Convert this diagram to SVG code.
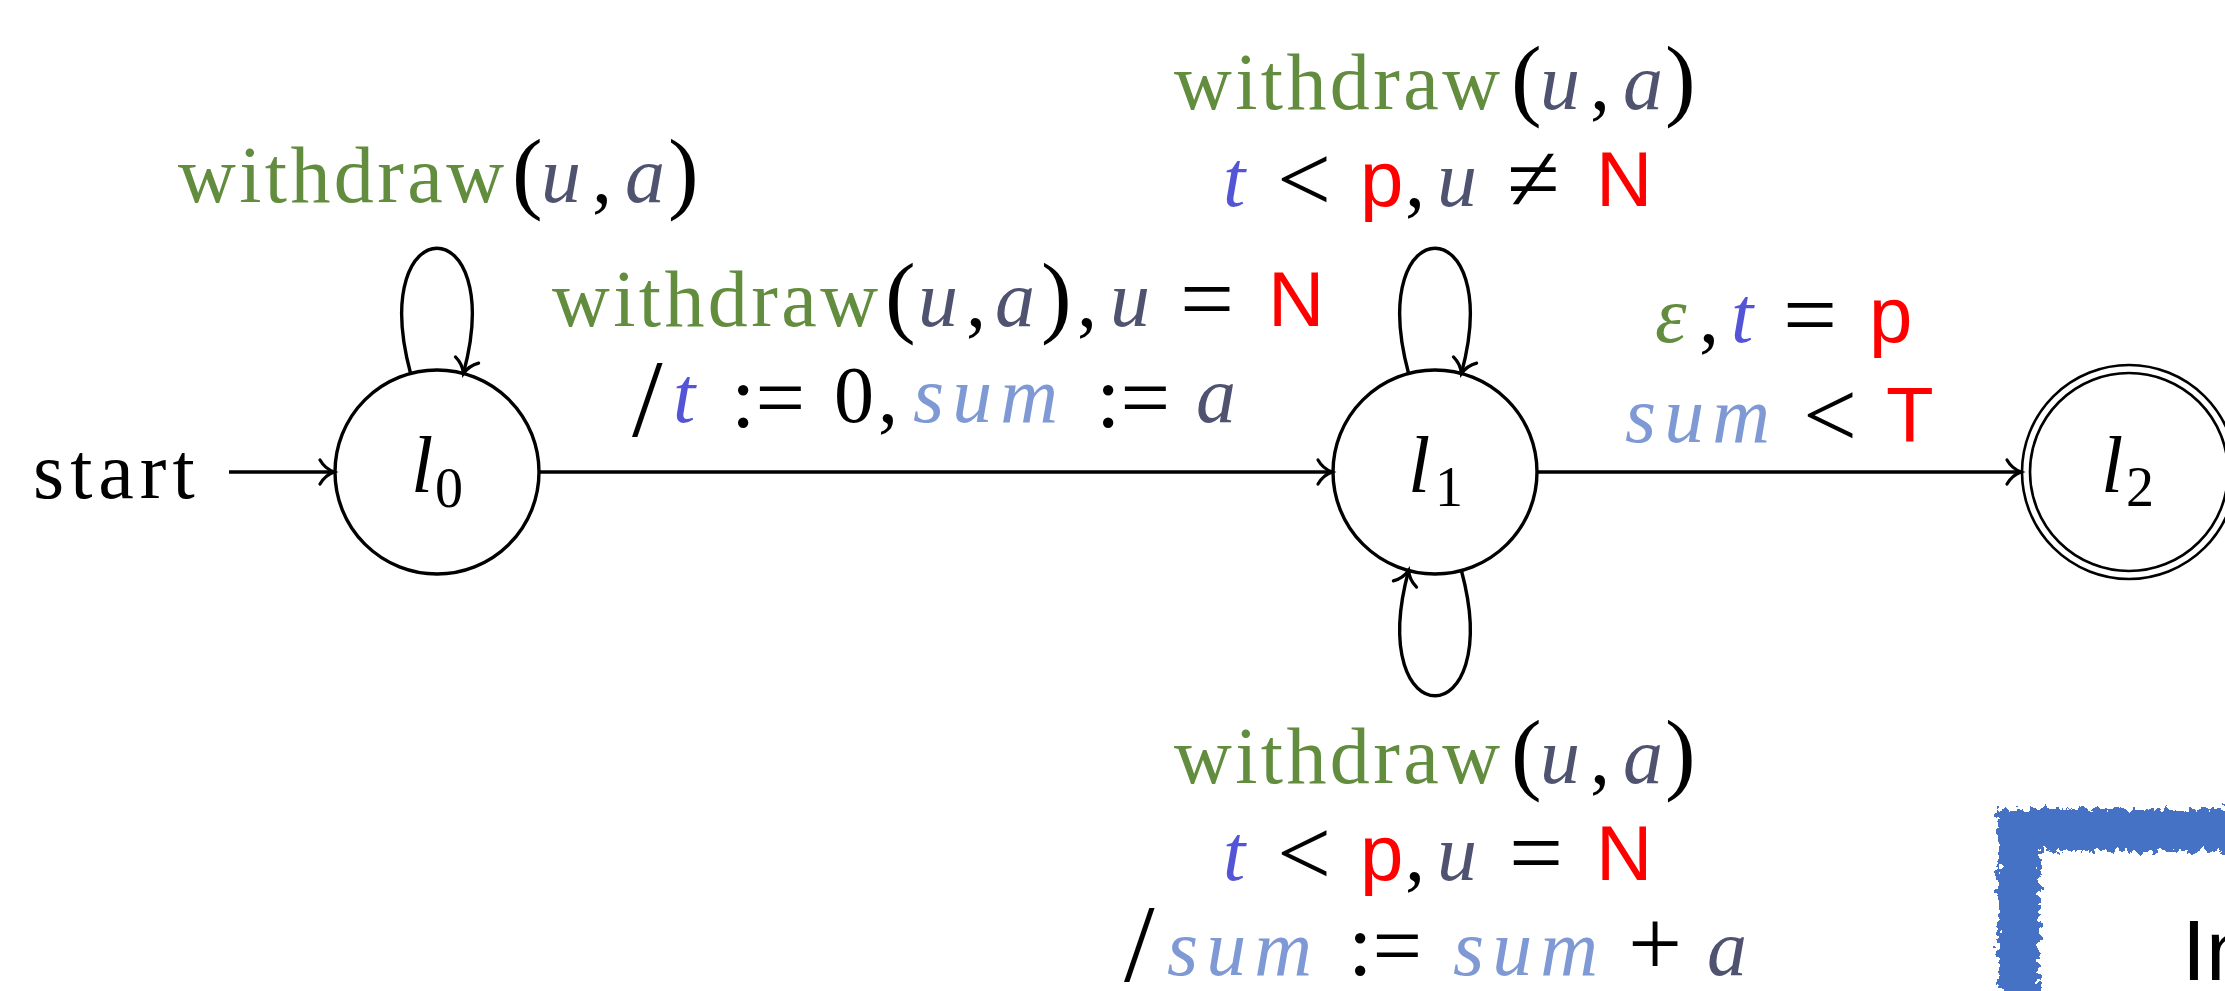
<svg xmlns="http://www.w3.org/2000/svg" width="2225" height="991" viewBox="0 0 2225 991">
<style>
text{font-family:"Liberation Serif","Times New Roman",serif;font-size:80px;fill:#000}
.it{font-style:italic}
.sf{font-family:"Liberation Sans",Arial,sans-serif;font-size:78px;font-style:normal}
.g{fill:#638D3E}
.s{fill:#4F5370}
.b{fill:#5454D6}
.lb{fill:#7E99D4}
.r{fill:#FF0000}
.w{letter-spacing:3.4px}
.sum{letter-spacing:8px}
.sub{font-size:56px}
.op{font-size:96px}
.as{font-size:88px}
.sl{font-size:110px}
.pa{font-size:92px}
.st{fill:none;stroke:#000;stroke-width:3.4}
.edge{fill:none;stroke:#000;stroke-width:3.4;marker-end:url(#to)}
</style>
<defs>
<marker id="to" markerUnits="userSpaceOnUse" viewBox="-20 -20 40 40" markerWidth="40" markerHeight="40" refX="0" refY="0" orient="auto" overflow="visible">
<path d="M -14 -12 C -10 -5 -4 -1.5 0 0 C -4 1.5 -10 5 -14 12" fill="none" stroke="#000" stroke-width="3.2" stroke-linecap="round"/>
</marker>
<filter id="rough" x="-10%" y="-10%" width="120%" height="120%">
<feTurbulence type="fractalNoise" baseFrequency="0.14" numOctaves="3" seed="5"/>
<feDisplacementMap in="SourceGraphic" scale="16" xChannelSelector="R" yChannelSelector="G"/>
</filter>
</defs>
<rect width="2225" height="991" fill="#fff"/>

<g id="start">
<text x="33" y="498" style="letter-spacing:6px">start</text>
</g>

<g id="node-l0">
<circle class="st" cx="437" cy="472" r="102"/>
<text y="492"><tspan x="411" class="it">l</tspan><tspan x="435" y="507" class="sub">0</tspan></text>
</g>

<g id="node-l1">
<circle class="st" cx="1435" cy="472" r="102"/>
<text y="492"><tspan x="1408" class="it">l</tspan><tspan x="1435" y="506" class="sub">1</tspan></text>
</g>

<g id="node-l2">
<circle cx="2129" cy="472" r="107" fill="none" stroke="#000" stroke-width="2.6"/>
<circle cx="2129" cy="472" r="99" fill="none" stroke="#000" stroke-width="2.6"/>
<text y="492"><tspan x="2101" class="it">l</tspan><tspan x="2126" y="506" class="sub">2</tspan></text>
</g>

<g id="connectors">
<path class="edge" d="M 229 472 H 334"/>
<path class="edge" d="M 539 472 H 1332"/>
<path class="edge" d="M 1537 472 H 2021"/>
<path class="edge" d="M 410.6 373.5 C 365.8 206.5 508.2 206.5 463.4 373.5"/>
<path class="edge" d="M 1408.6 373.5 C 1363.8 206.5 1506.2 206.5 1461.4 373.5"/>
<path class="edge" d="M 1461.4 570.5 C 1506.2 737.5 1363.8 737.5 1408.6 570.5"/>
</g>

<g id="labels">
<text y="202"><tspan x="512" class="pa">(</tspan><tspan x="178" class="g w">withdraw</tspan><tspan x="541" class="it s">u</tspan><tspan x="592">,</tspan><tspan x="625" class="it s">a</tspan><tspan x="668" class="pa">)</tspan></text>

<text y="326"><tspan x="552" class="g w">withdraw</tspan><tspan x="885" class="pa">(</tspan><tspan x="918" class="it s">u</tspan><tspan x="966">,</tspan><tspan x="995" class="it s">a</tspan><tspan x="1041" class="pa">)</tspan><tspan x="1077">,</tspan><tspan x="1110" class="it s">u</tspan><tspan x="1180" dy="5" class="op">=</tspan><tspan x="1268" dy="-5" class="sf r">N</tspan></text>
<text y="422"><tspan x="632" dy="14" class="sl">/</tspan><tspan x="673" dy="-14" class="it b">t</tspan><tspan x="731" dy="5" class="as">:=</tspan><tspan x="834" dy="-5">0</tspan><tspan x="878">,</tspan><tspan x="913" class="it lb sum">sum</tspan><tspan x="1096" dy="5" class="as">:=</tspan><tspan x="1196" dy="-5" class="it s">a</tspan></text>

<text y="109"><tspan x="1174" class="g w">withdraw</tspan><tspan x="1511" class="pa">(</tspan><tspan x="1540" class="it s">u</tspan><tspan x="1590">,</tspan><tspan x="1623" class="it s">a</tspan><tspan x="1665" class="pa">)</tspan></text>
<text y="206"><tspan x="1223" class="it b">t</tspan><tspan x="1277" dy="5" class="op">&lt;</tspan><tspan x="1360" dy="-5" class="sf r">p</tspan><tspan x="1405">,</tspan><tspan x="1437" class="it s">u</tspan><tspan x="1507" dy="5" class="op">≠</tspan><tspan x="1596" dy="-5" class="sf r">N</tspan></text>

<text y="342"><tspan x="1655" class="it g">ε</tspan><tspan x="1699">,</tspan><tspan x="1731" class="it b">t</tspan><tspan x="1783" dy="5" class="op">=</tspan><tspan x="1869" dy="-5" class="sf r">p</tspan></text>
<text y="442"><tspan x="1625" class="it lb sum">sum</tspan><tspan x="1803" dy="5" class="op">&lt;</tspan><tspan x="1886" dy="-5" class="sf r">T</tspan></text>

<text y="783"><tspan x="1174" class="g w">withdraw</tspan><tspan x="1511" class="pa">(</tspan><tspan x="1540" class="it s">u</tspan><tspan x="1590">,</tspan><tspan x="1623" class="it s">a</tspan><tspan x="1665" class="pa">)</tspan></text>
<text y="880"><tspan x="1223" class="it b">t</tspan><tspan x="1277" dy="5" class="op">&lt;</tspan><tspan x="1360" dy="-5" class="sf r">p</tspan><tspan x="1405">,</tspan><tspan x="1437" class="it s">u</tspan><tspan x="1509" dy="5" class="op">=</tspan><tspan x="1596" dy="-5" class="sf r">N</tspan></text>
<text y="975"><tspan x="1124" dy="6" class="sl">/</tspan><tspan x="1167" dy="-6" class="it lb sum">sum</tspan><tspan x="1348" class="as">:=</tspan><tspan x="1453" class="it lb sum">sum</tspan><tspan x="1628" class="op">+</tspan><tspan x="1707" class="it s">a</tspan></text>
</g>

<g id="frame">
<rect x="2019" y="830" width="400" height="400" fill="none" stroke="#4472C4" stroke-width="42" filter="url(#rough)"/>
<text x="2182" y="980" class="sf" style="font-size:86px">In</text>
</g>
</svg>
